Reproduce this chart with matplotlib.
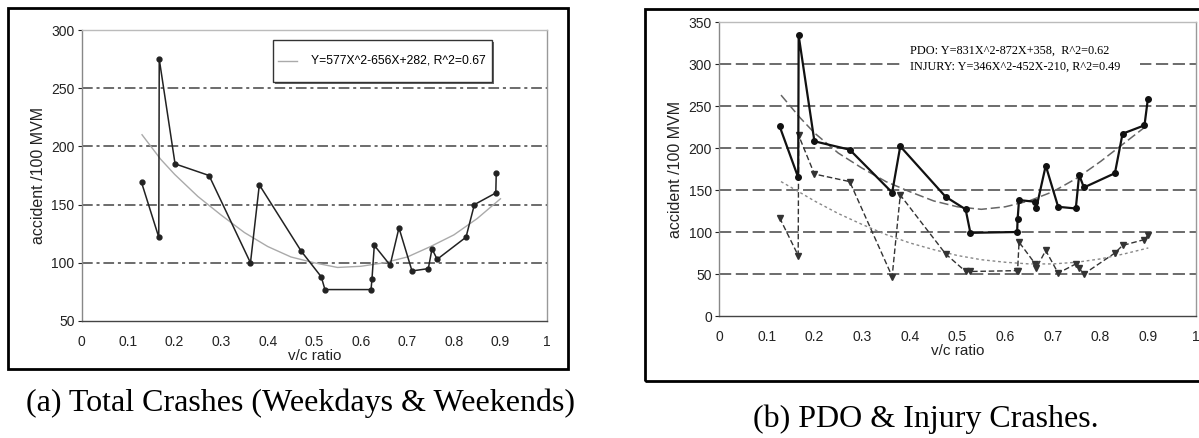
import matplotlib
matplotlib.use("Agg")
import matplotlib.pyplot as plt
from matplotlib.patches import Rectangle

# (a) total crashes, v/c ratio vs accident rate
vc_a = [0.129, 0.166, 0.167, 0.201, 0.274, 0.363, 0.382, 0.472, 0.515, 0.523, 0.622, 0.624,
        0.629, 0.663, 0.682, 0.710, 0.745, 0.753, 0.764, 0.826, 0.844, 0.890, 0.891]
total = [169, 122, 275, 185, 175, 100, 167, 110, 88, 77, 77, 86,
         115, 98, 130, 93, 95, 112, 103, 122, 150, 160, 177]

# (b) PDO & injury crashes
vc_b = [0.127, 0.166, 0.167, 0.200, 0.274, 0.363, 0.380, 0.475, 0.517, 0.527, 0.625, 0.626,
        0.629, 0.663, 0.665, 0.685, 0.711, 0.748, 0.755, 0.765, 0.830, 0.846, 0.892, 0.899]
pdo = [226, 165, 334, 208, 198, 147, 202, 142, 127, 99, 100, 115,
       138, 136, 128, 179, 130, 128, 168, 153, 170, 217, 227, 258]
injury = [117, 72, 215, 169, 160, 47, 144, 74, 53, 53, 54, 54,
          88, 62, 57, 78, 51, 62, 57, 50, 75, 84, 91, 96]

# trend lines
vc_fit = [0.13, 0.17, 0.2, 0.25, 0.3, 0.35, 0.4, 0.45, 0.5, 0.55, 0.6, 0.65, 0.7, 0.75, 0.8, 0.85, 0.9]
total_fit = [210, 189, 176, 157, 141, 126, 114, 105, 100, 96, 97, 100, 105, 114, 124, 138, 155]
pdo_fit = [263, 236, 218, 194, 176, 160, 148, 137, 130, 127, 130, 137, 148, 164, 184, 206, 228]
injury_fit = [160, 147, 137, 122, 109, 97, 87, 79, 72, 67, 64, 62, 62, 64, 68, 74, 81]

xticks = [0, 0.1, 0.2, 0.3, 0.4, 0.5, 0.6, 0.7, 0.8, 0.9, 1]
xlabels = ["0", "0.1", "0.2", "0.3", "0.4", "0.5", "0.6", "0.7", "0.8", "0.9", "1"]

legend_a = "Y=577X^2-656X+282, R^2=0.67"
legend_b = ["PDO: Y=831X^2-872X+358,  R^2=0.62", "INJURY: Y=346X^2-452X-210, R^2=0.49"]
caption_a = "(a) Total Crashes (Weekdays & Weekends)"
caption_b = "(b) PDO & Injury Crashes."

W, H = 1199, 438
plt.rcParams['font.family'] = ['Liberation Sans', 'DejaVu Sans']
SERIF = ['Liberation Serif', 'DejaVu Serif']


def px(x0, y0, x1, y1):
    # pixel box (top-left origin) -> figure fraction rect
    return [x0 / W, 1 - y1 / H, (x1 - x0) / W, (y1 - y0) / H]


def style_axes(ax, ymin, ymax, ystep, grid, gridstyle):
    ax.set_xlim(0, 1)
    ax.set_ylim(ymin, ymax)
    ax.set_xticks(xticks)
    ax.set_xticklabels(xlabels)
    ax.set_yticks(range(ymin, ymax + 1, ystep))
    ax.tick_params(axis='x', length=0, pad=10, labelsize=10, colors='#222')
    ax.tick_params(axis='y', length=3, pad=2, labelsize=10, colors='#222')
    for g in grid:
        ax.axhline(g, color='#444', lw=1.1, ls=gridstyle, zorder=1)
    ax.spines['top'].set_color('#bbb')
    ax.spines['right'].set_color('#999')
    ax.spines['left'].set_color('#888')
    ax.spines['bottom'].set_color('#444')
    for s in ax.spines.values():
        s.set_linewidth(1.0)
    ax.set_xlabel("v/c ratio", fontsize=11, labelpad=0, color='#222')
    ax.set_ylabel("accident /100 MVM", fontsize=11.5, labelpad=4, color='#222')


def main():
    fig = plt.figure(figsize=(W / 100, H / 100), dpi=100)

    # outer frames
    fig.patches.append(Rectangle((8 / W, 1 - 369 / H), 560 / W, 361 / H, transform=fig.transFigure,
                                 fill=False, lw=2, ec='black'))
    fig.patches.append(Rectangle((645 / W, 1 - 381 / H), 570 / W, 372 / H, transform=fig.transFigure,
                                 fill=False, lw=2, ec='black'))

    # (a)
    ax1 = fig.add_axes(px(81.5, 30, 547, 321))
    style_axes(ax1, 50, 300, 50, [100, 150, 200, 250], (0, (7, 2.5, 2, 2.5)))
    ax1.plot(vc_fit, total_fit, color='#aaa', lw=1.0, zorder=2)
    ax1.plot(vc_a, total, color='#222', lw=1.1, marker='o', ms=3.5, zorder=3)
    # legend box with drop shadow
    ax1.add_patch(Rectangle((0.416, 0.814), 0.471, 0.145, transform=ax1.transAxes, fc='#666',
                            ec='none', zorder=5))
    ax1.add_patch(Rectangle((0.411, 0.821), 0.471, 0.145, transform=ax1.transAxes, fc='white',
                            ec='#333', lw=1.0, zorder=5))
    ax1.plot([0.422, 0.463], [0.895, 0.895], transform=ax1.transAxes, color='#aaa', lw=1, zorder=6)
    ax1.text(0.492, 0.895, legend_a, transform=ax1.transAxes, fontsize=8.7, va='center', ha='left',
             zorder=6)

    # (b)
    ax2 = fig.add_axes(px(719, 22, 1196, 316))
    style_axes(ax2, 0, 350, 50, [50, 100, 150, 200, 250, 300], (0, (8, 3)))
    ax2.plot(vc_fit, pdo_fit, color='#666', lw=1.1, ls=(0, (6, 2.5)), zorder=2)
    ax2.plot(vc_fit, injury_fit, color='#888', lw=1.0, ls=(0, (2, 2)), zorder=2)
    ax2.plot(vc_b, pdo, color='#111', lw=1.6, marker='o', ms=4, zorder=4)
    ax2.plot(vc_b, injury, color='#333', lw=1.0, ls=(0, (4, 2)), marker='v', ms=4.5, zorder=3)
    ax2.add_patch(Rectangle((0.386, 0.816), 0.497, 0.116, transform=ax2.transAxes, fc='white',
                            ec='none', zorder=5))
    ax2.text(0.40, 0.876, legend_b[0] + "\n" + legend_b[1], transform=ax2.transAxes,
             family=SERIF, fontsize=8.8, va='center', ha='left', linespacing=1.4, zorder=6)

    # captions
    fig.text(300.5 / W, 1 - 403 / H, caption_a, family=SERIF, fontsize=23, ha='center', va='center')
    fig.text(925.5 / W, 1 - 419 / H, caption_b, family=SERIF, fontsize=23, ha='center', va='center')

    fig.savefig("out.png", dpi=100)


if __name__ == "__main__":
    main()
